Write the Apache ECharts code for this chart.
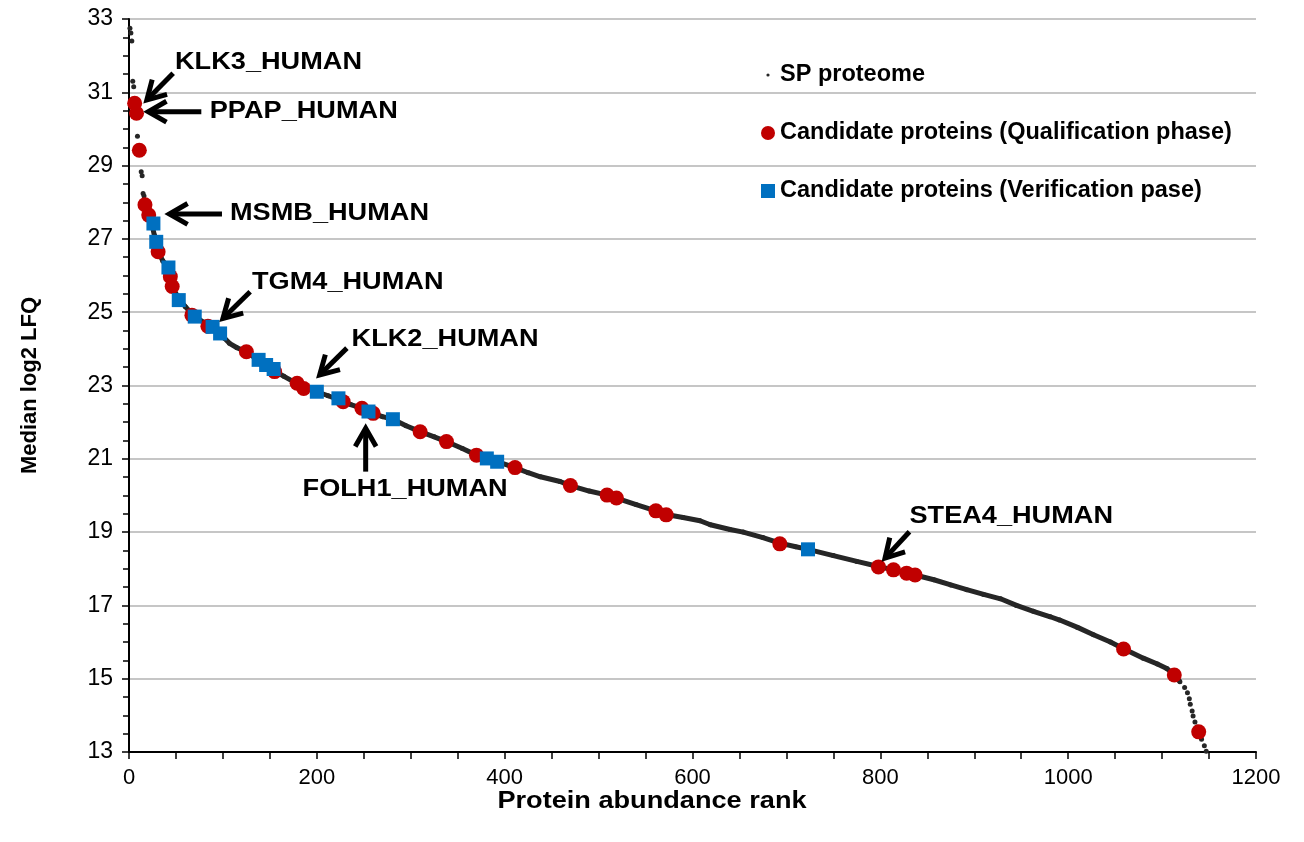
<!DOCTYPE html>
<html><head><meta charset="utf-8">
<script src="https://cdn.jsdelivr.net/npm/echarts@6/dist/echarts.min.js"></script>
<style>html,body{margin:0;padding:0;background:#fff}#c{width:1304px;height:842px}</style>
</head><body><div id="c"></div>
<script>
// SP proteome: rank and median log2 LFQ
const spRank = [1,2,3,4,5,6,7,8,9,10,11,13,14,15,16,17,18,20,22,24,26,27,29,31,33,36,39,42,44,46,50,54,60,67,75,85,92,97,102,107,115,125,136,145,155,165,177,186,200,212,225,236,248,260,270,281,295,310,325,338,355,370,381,392,411,425,438,459,470,490,509,519,540,561,572,590,608,619,640,654,675,693,710,723,750,775,798,814,828,837,857,875,892,910,928,945,963,981,991,1010,1027,1045,1059,1080,1095,1105,1113,1119,1124,1127,1129,1130,1132,1133,1135,1137,1139,1142,1145,1147];
const spValue = [32.75,32.62,32.4,31.3,31.15,30.72,30.6,30.43,29.8,29.45,29.4,28.83,28.72,28.24,28.17,27.95,27.85,27.68,27.55,27.45,27.4,27.1,26.92,26.65,26.55,26.4,26.3,26.2,26.0,25.7,25.5,25.33,25.15,24.95,24.8,24.64,24.52,24.42,24.28,24.15,24.03,23.92,23.72,23.56,23.4,23.25,23.08,22.94,22.83,22.72,22.6,22.48,22.38,22.23,22.15,22.08,21.9,21.74,21.6,21.47,21.28,21.1,21.01,20.92,20.76,20.62,20.51,20.38,20.27,20.12,20.01,19.93,19.75,19.58,19.48,19.4,19.31,19.2,19.07,19.0,18.85,18.7,18.6,18.53,18.36,18.2,18.06,17.97,17.89,17.83,17.7,17.56,17.43,17.3,17.18,17.0,16.84,16.69,16.6,16.4,16.2,16.0,15.82,15.56,15.4,15.28,15.1,14.92,14.76,14.62,14.45,14.3,14.12,13.98,13.82,13.68,13.55,13.35,13.17,13.02];

// Candidate proteins (Qualification phase)
const qualRank = [6,8,11,17,21,31,44,46,67,84,125,155,179,186,228,248,260,310,338,370,411,470,509,519,561,572,693,798,814,828,837,1059,1113,1139];
const qualValue = [30.70,30.43,29.42,27.93,27.65,26.65,25.97,25.70,24.92,24.62,23.92,23.38,23.06,22.92,22.56,22.38,22.24,21.74,21.47,21.10,20.76,20.27,20.01,19.93,19.58,19.47,18.68,18.05,17.97,17.88,17.83,15.81,15.10,13.55];

// Candidate proteins (Verification phase)
const verRank = [26,29,42,53,70,89,97,138,146,154,200,223,255,281,381,392,723];
const verValue = [27.42,26.92,26.22,25.33,24.88,24.6,24.42,23.7,23.56,23.45,22.83,22.65,22.29,22.08,21.01,20.92,18.53];

// Annotations (data coordinates)
const annoNames = ['KLK3_HUMAN','PPAP_HUMAN','MSMB_HUMAN','TGM4_HUMAN','KLK2_HUMAN','FOLH1_HUMAN','STEA4_HUMAN'];
const annoTailRank = [47,77,99,129,232,252,831];
const annoTailValue = [31.52,30.47,27.68,25.56,24.02,20.65,19.01];
const annoHeadRank = [19,20.5,43,100,203,252,805];
const annoHeadValue = [30.79,30.47,27.68,24.83,23.29,21.83,18.29];
const annoLabelRank = [49,86,107.5,131,237,294,831];
const annoLabelValue = [31.80,30.47,27.68,25.80,24.24,20.15,19.42];
const annoAlign = ['left','left','left','left','left','center','left'];

const xTitle = 'Protein abundance rank';
const yTitle = 'Median log2 LFQ';
const legendNames = ['SP proteome','Candidate proteins (Qualification phase)','Candidate proteins (Verification pase)'];

const FONT = '"Liberation Sans", Arial, sans-serif';
const spPoints = spRank.map((r,i)=>[r, spValue[i]]);
const spLine = spPoints.filter(p => p[0] >= 17 && p[0] <= 1119);
const qualPoints = qualRank.map((r,i)=>[r, qualValue[i]]);
const verPoints = verRank.map((r,i)=>[r, verValue[i]]);
const annoData = annoNames.map((n,i)=>[annoTailRank[i],annoTailValue[i],annoHeadRank[i],annoHeadValue[i],annoLabelRank[i],annoLabelValue[i]]);

const chart = echarts.init(document.getElementById('c'), null, {renderer:'canvas'});
chart.setOption({
  backgroundColor:'#fff',
  animation:false,
  grid:{left:129,right:48,top:19,bottom:90,containLabel:false},
  legend:{
    orient:'vertical', left:756, top:58, itemWidth:14, itemHeight:14, itemGap:34,
    selectedMode:false,
    textStyle:{fontFamily:FONT,fontWeight:'bold',fontSize:23.5,color:'#000',lineHeight:22},
    data:[
      {name:legendNames[0], icon:'path://M0,0 M14,14 M5.4,7 A1.6,1.6 0 1,1 8.6,7 A1.6,1.6 0 1,1 5.4,7 Z'},
      {name:legendNames[1], icon:'circle'},
      {name:legendNames[2], icon:'rect'}
    ]
  },
  xAxis:{
    type:'value', min:0, max:1200, interval:200,
    axisLine:{show:true,onZero:false,lineStyle:{color:'#000',width:2}},
    axisTick:{show:true,length:7,lineStyle:{color:'#000',width:1.5}},
    minorTick:{show:true,splitNumber:4,length:7,lineStyle:{color:'#000',width:1.5}},
    splitLine:{show:false},
    axisLabel:{fontFamily:FONT,fontSize:22,color:'#000',margin:15,formatter:v=>String(v)}
  },
  yAxis:{
    type:'value', min:13, max:33, interval:2,
    axisLine:{show:true,onZero:false,lineStyle:{color:'#000',width:2}},
    axisTick:{show:true,length:7,lineStyle:{color:'#000',width:1.5}},
    minorTick:{show:true,splitNumber:4,length:6,lineStyle:{color:'#000',width:1.5}},
    splitLine:{show:true,lineStyle:{color:'#b3b3b3',width:1.5}},
    axisLabel:{fontFamily:FONT,fontSize:23,color:'#000',margin:16},
    name:yTitle, nameLocation:'middle', nameGap:88, nameRotate:90,
    nameTextStyle:{fontFamily:FONT,fontWeight:'bold',fontSize:22,color:'#000'}
  },
  graphic:[{
    type:'text', left:'center', top:790, z:10,
    style:{text:xTitle, font:'bold 23px ' + FONT, fill:'#000'},
    scaleX:1.18
  }],
  series:[
    {type:'line', name:'SP line', data:spLine, showSymbol:false, symbol:'none', silent:true,
     lineStyle:{color:'#262626',width:5}, z:2},
    {type:'scatter', name:legendNames[0], data:spPoints, symbol:'circle', symbolSize:5,
     itemStyle:{color:'#262626',opacity:1}, z:3},
    {type:'scatter', name:legendNames[1], data:qualPoints, symbol:'circle', symbolSize:15,
     itemStyle:{color:'#c00000',opacity:1}, z:4},
    {type:'scatter', name:legendNames[2], data:verPoints, symbol:'rect', symbolSize:14,
     itemStyle:{color:'#0070c0',opacity:1}, z:5},
    {type:'custom', name:'annotations', data:annoData, z:6, silent:true, clip:false,
     renderItem:function(params, api){
       const i = params.dataIndex;
       const t = api.coord([api.value(0), api.value(1)]);
       const h = api.coord([api.value(2), api.value(3)]);
       const p = api.coord([api.value(4), api.value(5)]);
       const ang = Math.atan2(h[1]-t[1], h[0]-t[0]);
       const L = 21, spread = 0.52;
       const a1 = [h[0] - L*Math.cos(ang - spread), h[1] - L*Math.sin(ang - spread)];
       const a2 = [h[0] - L*Math.cos(ang + spread), h[1] - L*Math.sin(ang + spread)];
       return {type:'group', children:[
         {type:'line', shape:{x1:t[0],y1:t[1],x2:h[0]-2*Math.cos(ang),y2:h[1]-2*Math.sin(ang)},
          style:{stroke:'#000',lineWidth:5}},
         {type:'polyline', shape:{points:[a1,h,a2]},
          style:{stroke:'#000',lineWidth:5,fill:null,lineJoin:'miter',lineCap:'butt'}},
         {type:'text', x:p[0], y:p[1], scaleX:1.18,
          style:{text:annoNames[i], x:0, y:0, font:'bold 23px ' + FONT, fill:'#000',
                 textAlign:annoAlign[i], textVerticalAlign:'middle'}}
       ]};
     }}
  ]
});
</script></body></html>
